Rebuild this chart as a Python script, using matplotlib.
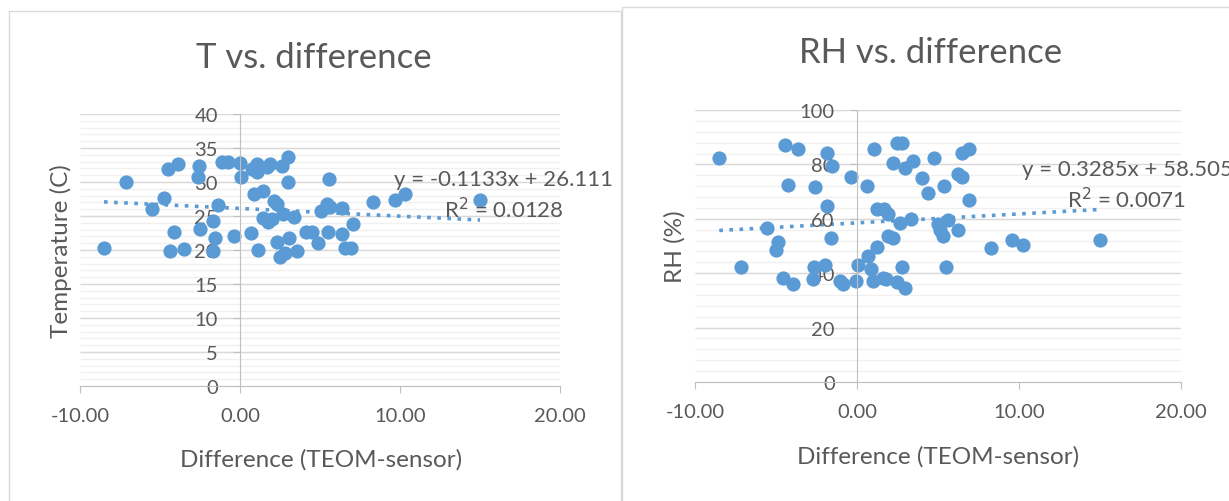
import matplotlib.pyplot as plt
from matplotlib.patches import Rectangle
import numpy as np

# T vs difference
t_diff = [-8.5, -7.1, -5.5, -4.75, -4.5, -3.86, -4.1, -4.4, -3.5, -2.54, -2.5, -2.6,
          -1.67, -1.35, -1.56, -1.67, -1.15, -0.73, 0.0, 0.06, -0.37, 0.69, 0.73, 1.04,
          1.04, 1.67, 1.875, 2.6, 2.98, 2.98, 0.9, 1.42, 2.15, 2.3, 1.42, 1.77, 2.0,
          2.7, 3.375, 1.15, 2.33, 3.06, 2.5, 2.8, 3.58, 4.1, 4.52, 4.9, 5.58, 5.06,
          5.42, 5.6, 6.35, 5.52, 6.35, 6.56, 6.94, 7.08, 8.33, 9.69, 10.3, 15.0]
t_temp = [20.3, 30.0, 26.0, 27.6, 31.9, 32.6, 22.7, 19.9, 20.2, 32.4, 23.1, 30.7,
          24.3, 26.6, 21.8, 19.9, 32.9, 32.9, 32.8, 30.7, 22.0, 22.5, 31.9, 32.6,
          31.4, 32.2, 32.6, 32.3, 33.7, 30.0, 28.3, 28.7, 27.2, 26.8, 24.7, 24.1, 24.5,
          25.3, 24.8, 20.0, 21.2, 21.8, 18.9, 19.5, 19.9, 22.6, 22.7, 21.1, 30.4, 25.8,
          26.8, 26.3, 26.2, 22.7, 22.4, 20.3, 20.3, 23.8, 27.1, 27.3, 28.3, 27.4]

# RH vs difference
rh_diff = [-8.52, -7.16, -5.57, -4.9, -5.0, -4.44, -3.62, -4.24, -4.55, -3.93, -2.59,
           -2.63, -2.7, -1.87, -1.87, -1.6, -1.95, -1.56, -1.05, -0.85, -0.39, -0.06,
           0.04, 0.6, 1.07, 0.7, 0.86, 1.0, 1.21, 1.21, 1.69, 1.9, 1.93, 2.24, 1.62,
           1.8, 2.45, 2.96, 2.8, 2.65, 3.33, 2.45, 2.76, 2.2, 2.96, 3.48, 3.99, 4.36,
           4.77, 5.02, 5.12, 5.33, 5.39, 5.6, 5.47, 6.26, 6.26, 6.5, 6.5, 6.91, 6.93,
           8.25, 9.55, 10.27, 15.0]
rh_vals = [82.4, 42.4, 56.7, 51.5, 48.4, 87.3, 85.8, 72.3, 38.4, 35.9, 71.8,
           42.1, 37.8, 84.3, 64.7, 53.0, 43.0, 79.4, 37.2, 36.0, 75.5, 37.2,
           43.0, 72.0, 85.8, 46.3, 41.5, 37.2, 49.6, 63.5, 63.5, 61.9, 53.7, 53.1, 38.4,
           37.8, 36.6, 34.7, 42.3, 58.6, 59.8, 87.9, 87.9, 80.6, 78.5, 81.2, 75.1, 69.6,
           82.4, 58.2, 55.8, 53.7, 72.0, 59.5, 42.3, 55.8, 76.6, 75.3, 84.3, 85.5, 66.8,
           49.2, 52.2, 50.3, 52.2]

# trendline coefficients shown on the charts
t_fit = (-0.1133, 26.111)
rh_fit = (0.3285, 58.505)
x_ticks = [-10, 0, 10, 20]

blue = '#5B9BD5'
txt = '#595959'
plt.rcParams['font.family'] = ['Lato', 'DejaVu Sans']

W, H = 1229, 502
fig = plt.figure(figsize=(W / 100, H / 100), dpi=100)

def fx(px):
    return px / W

def fy(py):
    return 1 - py / H

# chart area borders
fig.patches.append(Rectangle((fx(9), fy(520)), fx(612), fy(12) - fy(520), transform=fig.transFigure,
                             fill=False, ec='#D9D9D9', lw=1))
fig.patches.append(Rectangle((fx(622), fy(520)), fx(640), fy(8) - fy(520), transform=fig.transFigure,
                             fill=False, ec='#D9D9D9', lw=1))


def setup(ax, ymax, ymajor, yminor, fit, eq, eqpos, r2):
    ax.set_xlim(-10, 20)
    ax.set_ylim(0, ymax)
    for s in ['top', 'right']:
        ax.spines[s].set_visible(False)
    ax.spines['left'].set_position(('data', 0))
    ax.spines['left'].set_color('#BFBFBF')
    ax.spines['bottom'].set_color('#BFBFBF')
    ax.set_xticks(x_ticks)
    ax.set_xticklabels(['%.2f' % v for v in x_ticks])
    majors = np.arange(0, ymax + 1, ymajor)
    minors = np.arange(0, ymax + 0.1, yminor)
    ax.set_yticks(majors)
    ax.tick_params(axis='x', colors='#BFBFBF', labelcolor=txt, labelsize=14.5, length=5, pad=10)
    ax.tick_params(axis='y', colors='#BFBFBF', labelcolor=txt, labelsize=14.5, length=5, pad=11)
    # gridlines drawn by hand so they stay below the markers while tick labels stay on top
    ax.hlines(minors, -10, 20, color='#F0F0F0', lw=1, zorder=0.5)
    ax.hlines(majors[1:], -10, 20, color='#D9D9D9', lw=1, zorder=0.6)
    xs = np.array([-8.5, 15.0])
    ax.plot(xs, fit[0] * xs + fit[1], color=blue, lw=2.6, ls=(0, (1, 1.8)), zorder=1.5)
    fig.text(fx(eqpos[0]), fy(eqpos[1]), eq, ha='center', va='center', color=txt, fontsize=16)
    fig.text(fx(eqpos[0]), fy(eqpos[1] + 30), r2, ha='center', va='center', color=txt, fontsize=16)


ax1 = fig.add_axes([fx(80), fy(387), fx(480), fy(115) - fy(387)])
ax1.scatter(t_diff, t_temp, s=105, color=blue, zorder=2, linewidths=0)
setup(ax1, 40, 5, 1, t_fit, 'y = -0.1133x + 26.111', (504, 180), 'R$^2$ = 0.0128')

ax2 = fig.add_axes([fx(695), fy(383), fx(486), fy(111) - fy(383)])
ax2.scatter(rh_diff, rh_vals, s=105, color=blue, zorder=2, linewidths=0)
setup(ax2, 100, 20, 4, rh_fit, 'y = 0.3285x + 58.505', (1127, 170), 'R$^2$ = 0.0071')

fig.text(fx(314), fy(58), 'T vs. difference', ha='center', va='center', color=txt, fontsize=25)
fig.text(fx(931), fy(53), 'RH vs. difference', ha='center', va='center', color=txt, fontsize=25)
fig.text(fx(321), fy(460), 'Difference (TEOM-sensor)', ha='center', va='center', color=txt, fontsize=17.5)
fig.text(fx(938), fy(457), 'Difference (TEOM-sensor)', ha='center', va='center', color=txt, fontsize=17.5)
fig.text(fx(61), fy(251), 'Temperature (C)', ha='center', va='center', rotation=90, color=txt, fontsize=17.5)
fig.text(fx(675), fy(247), 'RH (%)', ha='center', va='center', rotation=90, color=txt, fontsize=17.5)

fig.savefig('out.png', dpi=100)
